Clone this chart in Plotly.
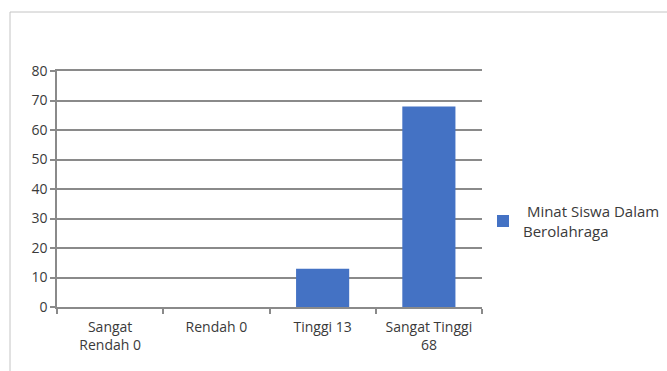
import plotly.graph_objects as go

categories = ["Sangat<br>Rendah 0", "Rendah 0", "Tinggi 13", "Sangat Tinggi<br>68"]
values = [0, 0, 13, 68]
series_name = " Minat Siswa Dalam<br>Berolahraga"
y_ticks = [0, 10, 20, 30, 40, 50, 60, 70, 80]

W, H = 667, 371
L, R, T, B = 57, 185, 71, 64
pw, ph = W - L - R, H - T - B

def px_x(px):
    return (px - L) / pw

def px_y(py):
    return (H - B - py) / ph

fig = go.Figure()
fig.add_trace(go.Bar(
    x=categories, y=values, name=series_name,
    marker=dict(color="#4472C4", line=dict(width=0)),
    showlegend=True,
))

grid_col = "#8a8a8a"
text_col = "#3a3a3a"
fig.update_layout(
    width=W, height=H,
    margin=dict(l=L, r=R, t=T, b=B, pad=0, autoexpand=False),
    paper_bgcolor="white", plot_bgcolor="white",
    font=dict(family="Open Sans", size=14, color=text_col),
    bargap=0.5,
    showlegend=True,
    legend=dict(x=px_x(483), y=px_y(221), xanchor="left", yanchor="middle",
                font=dict(size=15, color=text_col),
                tracegroupgap=0, bgcolor="rgba(0,0,0,0)"),
    xaxis=dict(
        showline=True, linecolor=grid_col, linewidth=1.5, mirror=True,
        ticks="outside", ticklen=5, tickcolor=grid_col, tickwidth=1.5,
        tickson="boundaries", showgrid=False,
        ticklabelstandoff=6,
        tickfont=dict(size=14, color=text_col),
        automargin=False,
        fixedrange=True,
    ),
    yaxis=dict(
        range=[0, 80], tickvals=y_ticks,
        showline=True, linecolor=grid_col, linewidth=1.5,
        ticks="outside", ticklen=5, tickcolor=grid_col, tickwidth=1.5,
        showgrid=True, gridcolor=grid_col, gridwidth=1.5,
        zeroline=False,
        tickfont=dict(size=14, color=text_col),
        automargin=False,
        fixedrange=True,
    ),
    shapes=[
        dict(type="line", xref="paper", yref="paper",
             x0=px_x(10), x1=px_x(667), y0=px_y(12), y1=px_y(12),
             line=dict(color="#c4c4c4", width=1)),
        dict(type="line", xref="paper", yref="paper",
             x0=px_x(10), x1=px_x(10), y0=px_y(12), y1=px_y(371),
             line=dict(color="#c4c4c4", width=1)),
    ],
)

fig.write_html("out.html", config={"displayModeBar": False})
